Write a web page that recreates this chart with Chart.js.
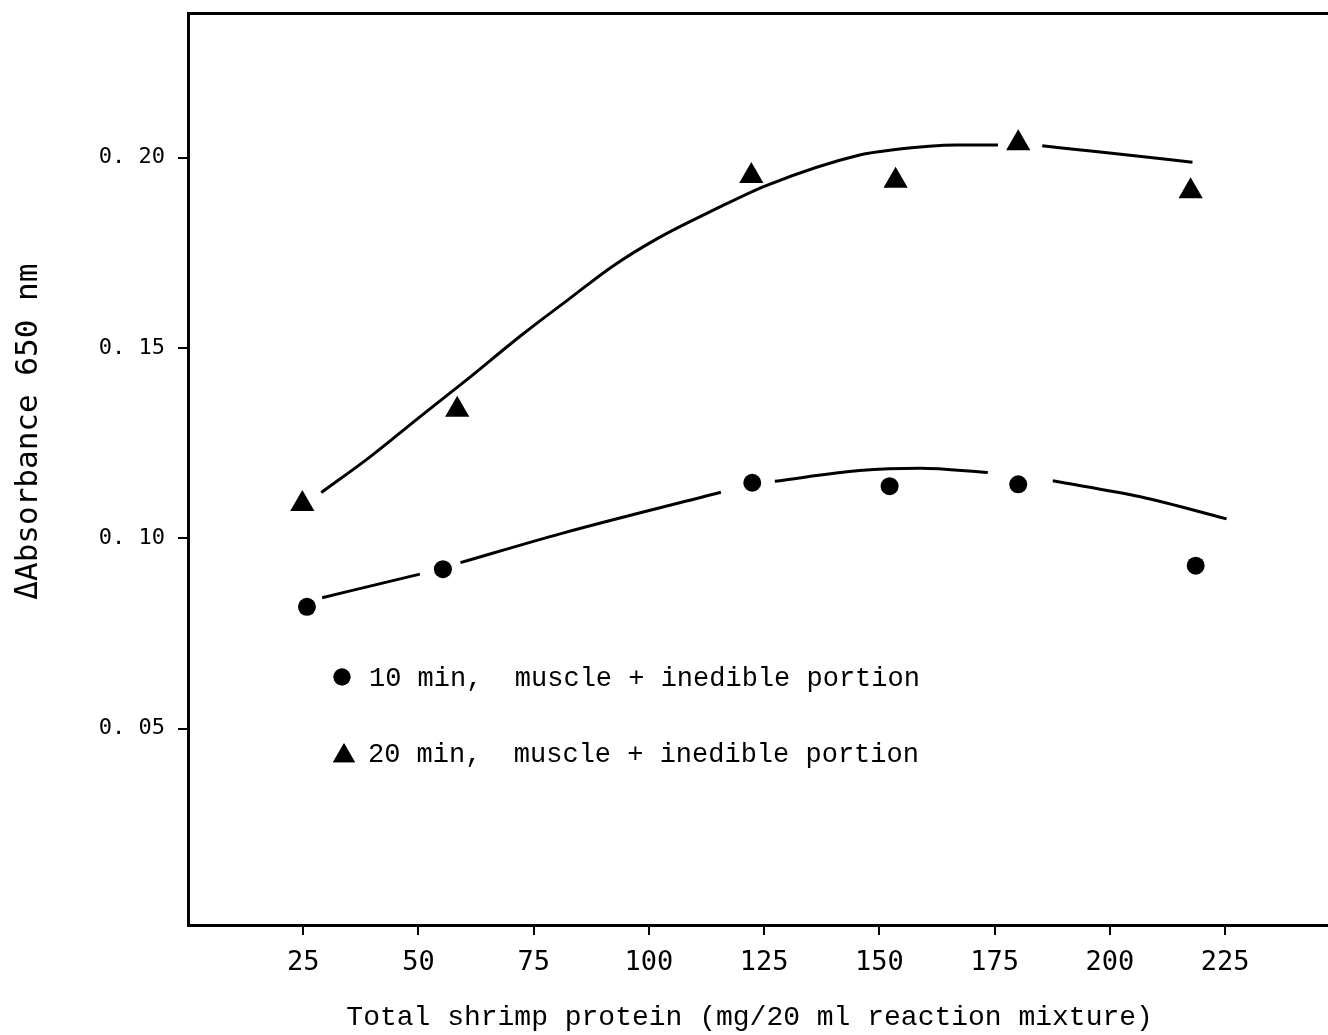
<!DOCTYPE html>
<html>
<head>
<meta charset="utf-8">
<script src="https://cdn.jsdelivr.net/npm/chart.js@4.4.1/dist/chart.umd.min.js"></script>
<style>
  html, body { margin: 0; padding: 0; background: #fff; overflow: hidden; }
  #wrap { width: 1328px; height: 1035px; overflow: hidden; }
  canvas { display: block; }
</style>
</head>
<body>
<div id="wrap"><canvas id="c" width="1328" height="1035"></canvas></div>
<script>
// ---- data ----
const protein10 = [25.8, 55.3, 122.4, 152.2, 180.1, 218.6];
const absorb10  = [0.0820, 0.0919, 0.1146, 0.1137, 0.1142, 0.0928];
const protein20 = [24.8, 58.4, 122.2, 153.5, 180.1, 217.5];
const absorb20  = [0.1090, 0.1338, 0.1952, 0.1939, 0.2038, 0.1912];

// hand-drawn fitted curves as traced (null = break in the drawn line)
const fit10X = [29.1, 50.3, null, 59.1, 81.1, 115.6, null, 127.3, 145.7, 158.8, 173.5, null, 187.6, 206.6, 225.3];
const fit10Y = [0.0844, 0.0906, null, 0.0936, 0.1013, 0.1121, null, 0.1150, 0.1178, 0.1184, 0.1173, null, 0.1151, 0.1109, 0.1051];
const fit20X = [28.9, 39.5, 50.3, 59.9, 72.8, 82.7, 91.9, 101.9, 114.3, 125.7, 145.7, 152.6, 166.6, 175.7, null, 185.3, 197.9, 217.9];
const fit20Y = [0.1120, 0.1214, 0.1319, 0.1411, 0.1538, 0.1629, 0.1713, 0.1788, 0.1864, 0.1928, 0.2007, 0.2020, 0.2033, 0.2033, null, 0.2031, 0.2015, 0.1988];

const xTicks = [25, 50, 75, 100, 125, 150, 175, 200, 225];
const yTicks = [0.05, 0.10, 0.15, 0.20];

const seriesLabels = ['10 min,  muscle + inedible portion', '20 min,  muscle + inedible portion'];
const xTitle = 'Total shrimp protein (mg/20 ml reaction mixture) ';
const yTitle = '    \u0394Absorbance 650 nm';

function pts(xs, ys) {
  return xs.map((x, i) => ({ x: x, y: ys[i] }));
}
function curvePts(xs, ys) {
  return xs.map((x, i) => (x === null ? { x: NaN, y: null } : { x: x, y: ys[i] }));
}
function noPad(s) { s.paddingTop = 0; s.paddingBottom = 0; s.paddingLeft = 0; s.paddingRight = 0; }

const inlineLegend = {
  id: 'inlineLegend',
  afterDatasetsDraw(chart, args, opts) {
    const ctx = chart.ctx;
    ctx.save();
    ctx.fillStyle = '#000';
    ctx.strokeStyle = '#000';
    ctx.font = opts.font;
    ctx.textBaseline = 'alphabetic';
    ctx.textAlign = 'left';
    opts.items.forEach(it => {
      const ds = chart.data.datasets[it.dataset];
      Chart.helpers.drawPoint(ctx, { pointStyle: ds.pointStyle, radius: it.r, borderWidth: 0 }, it.mx, it.my);
      ctx.fill();
      ctx.fillText(ds.label, it.tx, it.ty);
    });
    ctx.restore();
  }
};

const chart = new Chart(document.getElementById('c'), {
  type: 'scatter',
  data: {
    datasets: [
      { label: seriesLabels[0], data: pts(protein10, absorb10), pointStyle: 'circle', pointRadius: 9, pointHoverRadius: 9,
        backgroundColor: '#000', borderColor: '#000', borderWidth: 0, showLine: false, order: 1 },
      { label: seriesLabels[1], data: pts(protein20, absorb20), pointStyle: 'triangle', pointRadius: 14, pointHoverRadius: 14,
        backgroundColor: '#000', borderColor: '#000', borderWidth: 0, showLine: false, order: 1 },
      { label: 'fit10', data: curvePts(fit10X, fit10Y), showLine: true, spanGaps: false, pointRadius: 0, borderColor: '#000',
        borderWidth: 3, cubicInterpolationMode: 'monotone', fill: false, order: 2 },
      { label: 'fit20', data: curvePts(fit20X, fit20Y), showLine: true, spanGaps: false, pointRadius: 0, borderColor: '#000',
        borderWidth: 3, cubicInterpolationMode: 'monotone', fill: false, order: 2 }
    ]
  },
  options: {
    responsive: false,
    maintainAspectRatio: false,
    animation: false,
    devicePixelRatio: 1,
    layout: { autoPadding: false, padding: { top: 13, right: 0, left: 0, bottom: 0 } },
    plugins: {
      legend: { display: false },
      tooltip: { enabled: false },
      inlineLegend: {
        font: '27px "Liberation Mono"',
        items: [
          { dataset: 0, r: 8.5, mx: 342, my: 677, tx: 369, ty: 686 },
          { dataset: 1, r: 12.7, mx: 344, my: 756, tx: 368, ty: 762 }
        ]
      }
    },
    scales: {
      x: {
        type: 'linear', position: 'bottom', min: 0, max: 247.3,
        afterBuildTicks: s => { s.ticks = xTicks.map(v => ({ value: v })); },
        afterFit: s => { s.height = 110; noPad(s); },
        ticks: { color: '#000', font: { family: '"DejaVu Sans Mono"', size: 27 }, padding: 12,
                 maxRotation: 0, autoSkip: false, callback: v => String(v) },
        grid: { display: true, drawOnChartArea: false, drawTicks: true, tickLength: 10, color: '#000', lineWidth: 2 },
        border: { display: true, color: '#000', width: 3 },
        title: { display: true, text: xTitle, color: '#000', font: { family: '"Liberation Mono"', size: 28 },
                 padding: { top: 0, bottom: 1 } }
      },
      xTop: {
        type: 'linear', position: 'top', min: 0, max: 247.3,
        afterFit: s => { s.height = 0; noPad(s); },
        ticks: { display: false },
        grid: { display: false, drawTicks: false },
        border: { display: true, color: '#000', width: 3 }
      },
      y: {
        type: 'linear', position: 'left', min: -0.00158, max: 0.2380,
        afterBuildTicks: s => { s.ticks = yTicks.map(v => ({ value: v })); },
        afterFit: s => { s.width = 188; noPad(s); },
        ticks: { color: '#000', font: { family: '"DejaVu Sans Mono"', size: 22 }, padding: 13,
                 callback: v => v.toFixed(2).replace('.', '. ') },
        grid: { display: true, drawOnChartArea: false, drawTicks: true, tickLength: 10, color: '#000', lineWidth: 2 },
        border: { display: true, color: '#000', width: 3 },
        title: { display: true, text: yTitle, color: '#000', font: { family: '"DejaVu Sans Mono"', size: 31 },
                 padding: { top: 10, bottom: 0 } }
      }
    }
  },
  plugins: [inlineLegend]
});
</script>
</body>
</html>
